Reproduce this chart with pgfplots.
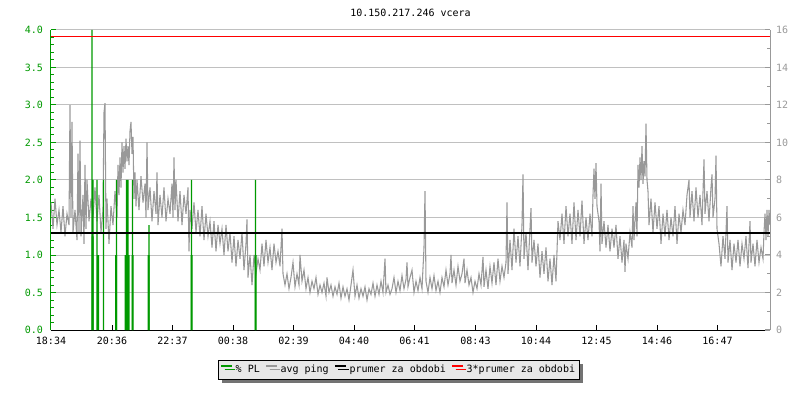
\documentclass[border=0pt]{standalone}
\usepackage{fontspec}
\setmainfont{DejaVu Sans Mono}
\usepackage{pgfplots}
\usepackage{pgfplotstable}
\pgfplotsset{compat=1.18}
\usetikzlibrary{shadows}

\definecolor{plgreen}{RGB}{0,153,0}
\definecolor{pinggray}{RGB}{153,153,153}
\definecolor{gridgray}{RGB}{192,192,192}
\definecolor{legfill}{RGB}{232,232,232}

% avg ping [ms], x = minutes since 18:34
\pgfplotstableread[row sep=\\]{
min ping\\
0 6.8\\ 4 5.4\\ 8 7.0\\ 12 5.6\\ 16 6.4\\ 20 5.2\\ 24 6.6\\ 28 5.0\\ 32 6.2\\ 36 5.6\\
38 12.0\\ 40 6.0\\ 42 11.1\\ 44 5.2\\ 48 6.4\\ 52 4.8\\ 54 9.4\\ 56 5.2\\ 58 10.1\\ 60 5.0\\
64 7.2\\ 66 4.6\\ 68 8.8\\ 70 5.4\\ 72 8.0\\ 76 5.8\\ 80 7.0\\ 84 6.0\\ 88 7.6\\ 92 5.8\\
96 7.2\\ 100 5.2\\ 104 6.4\\ 106 11.6\\ 108 12.1\\ 110 5.4\\ 112 7.0\\ 116 4.6\\ 120 6.6\\ 124 5.6\\
128 7.4\\ 132 6.0\\ 134 8.8\\ 136 7.2\\ 138 9.2\\ 140 7.6\\ 142 10.0\\ 144 8.4\\ 146 9.8\\ 148 8.6\\
150 10.2\\ 152 9.0\\ 154 9.8\\ 156 8.8\\ 158 10.6\\ 160 11.1\\ 162 9.4\\ 164 10.3\\ 166 7.0\\ 168 8.4\\
170 6.6\\ 172 8.0\\ 176 6.4\\ 180 8.2\\ 184 6.8\\ 188 7.8\\ 190 6.0\\ 192 10.0\\ 194 6.4\\ 198 7.6\\
202 5.8\\ 206 7.4\\ 210 6.2\\ 212 8.4\\ 214 5.6\\ 218 7.2\\ 222 6.0\\ 226 7.6\\ 230 5.8\\ 234 7.0\\
238 6.2\\ 242 7.8\\ 244 6.0\\ 246 9.2\\ 248 6.4\\ 250 8.0\\ 254 5.8\\ 258 7.4\\ 262 5.6\\ 266 7.2\\
270 6.2\\ 274 7.6\\ 276 4.2\\ 278 6.4\\ 282 5.4\\ 286 6.8\\ 290 5.2\\ 294 6.4\\ 298 5.0\\ 302 6.6\\
306 4.8\\ 310 6.2\\ 314 5.0\\ 318 5.8\\ 322 4.4\\ 326 5.8\\ 330 4.2\\ 334 5.6\\ 338 4.6\\ 342 5.4\\
346 4.0\\ 350 5.6\\ 354 4.2\\ 358 5.2\\ 362 3.6\\ 366 5.0\\ 370 3.4\\ 374 4.8\\ 378 3.8\\ 382 5.2\\
386 3.2\\ 390 4.6\\ 392 5.9\\ 394 2.8\\ 398 4.0\\ 402 2.4\\ 406 4.0\\ 410 3.0\\ 414 3.8\\ 418 3.2\\
422 4.6\\ 426 3.4\\ 430 4.8\\ 434 3.6\\ 438 4.4\\ 442 3.2\\ 446 4.6\\ 450 3.6\\ 454 4.2\\ 458 3.4\\
462 5.4\\ 464 3.0\\ 468 2.4\\ 472 3.0\\ 476 2.2\\ 480 2.8\\ 484 3.6\\ 488 2.3\\ 492 3.0\\ 496 2.4\\
498 4.0\\ 502 2.6\\ 506 3.2\\ 510 2.2\\ 514 2.8\\ 518 2.0\\ 522 2.6\\ 526 2.2\\ 530 2.8\\ 534 1.9\\
538 2.4\\ 542 2.0\\ 546 2.5\\ 550 1.8\\ 552 2.8\\ 556 2.0\\ 560 2.4\\ 564 1.8\\ 568 2.3\\ 572 1.9\\
576 2.5\\ 580 1.7\\ 584 2.3\\ 588 1.8\\ 592 2.2\\ 596 1.6\\ 600 2.4\\ 604 3.2\\ 608 1.8\\ 612 2.4\\
616 1.7\\ 620 2.2\\ 624 1.8\\ 628 2.3\\ 632 1.6\\ 636 2.2\\ 640 1.9\\ 644 2.5\\ 648 1.8\\ 652 2.4\\
656 1.9\\ 660 2.6\\ 664 2.0\\ 668 3.8\\ 670 2.0\\ 674 2.4\\ 678 1.9\\ 682 2.2\\ 686 2.8\\ 690 2.0\\
694 2.6\\ 698 2.1\\ 702 2.9\\ 706 2.2\\ 710 2.7\\ 712 3.6\\ 714 2.3\\ 718 2.8\\ 722 3.2\\ 726 2.0\\
730 2.6\\ 734 2.1\\ 738 2.8\\ 742 2.2\\ 746 4.4\\ 748 7.4\\ 750 2.6\\ 754 2.0\\ 758 2.8\\ 762 2.2\\
766 2.9\\ 770 2.1\\ 774 2.6\\ 778 2.0\\ 782 2.8\\ 786 2.3\\ 790 3.2\\ 794 2.4\\ 798 3.0\\ 800 4.0\\
802 2.5\\ 806 3.2\\ 810 2.4\\ 814 3.4\\ 818 2.6\\ 822 3.0\\ 826 3.8\\ 828 2.5\\ 832 3.2\\ 836 2.4\\
840 2.8\\ 844 2.0\\ 848 2.6\\ 852 2.2\\ 856 3.0\\ 860 2.4\\ 864 3.9\\ 866 2.3\\ 870 3.2\\ 874 2.2\\
878 3.4\\ 882 2.5\\ 886 3.6\\ 890 2.4\\ 894 3.8\\ 898 2.6\\ 902 3.4\\ 906 2.8\\ 910 3.6\\ 912 6.8\\
914 3.0\\ 918 4.8\\ 922 3.2\\ 926 5.4\\ 930 3.6\\ 934 5.0\\ 938 3.4\\ 942 5.6\\ 944 8.3\\ 946 3.8\\
950 5.2\\ 954 3.2\\ 958 5.4\\ 960 6.5\\ 962 3.6\\ 966 4.8\\ 970 3.4\\ 974 4.6\\ 978 2.8\\ 982 4.2\\
986 3.0\\ 990 4.4\\ 994 2.6\\ 998 3.8\\ 1002 2.4\\ 1006 4.0\\ 1010 2.6\\ 1014 5.8\\ 1018 4.8\\ 1022 6.2\\
1026 4.6\\ 1030 6.6\\ 1034 5.0\\ 1038 6.2\\ 1042 4.6\\ 1046 6.8\\ 1050 4.8\\ 1054 6.4\\ 1058 5.0\\ 1062 6.9\\
1066 4.6\\ 1070 6.0\\ 1074 4.8\\ 1078 6.2\\ 1082 5.0\\ 1084 7.2\\ 1086 8.6\\ 1088 7.0\\ 1090 8.9\\ 1092 6.6\\
1096 5.8\\ 1098 4.2\\ 1100 7.8\\ 1102 4.6\\ 1106 5.8\\ 1110 4.4\\ 1114 5.6\\ 1118 4.2\\ 1122 5.4\\ 1126 4.4\\
1130 5.6\\ 1134 3.8\\ 1138 5.0\\ 1142 3.6\\ 1146 4.8\\ 1148 3.1\\ 1150 4.6\\ 1154 3.8\\ 1158 5.2\\ 1162 4.4\\
1164 6.6\\ 1166 4.8\\ 1170 6.8\\ 1172 5.0\\ 1174 8.8\\ 1176 7.6\\ 1178 9.2\\ 1180 8.0\\ 1182 9.8\\ 1184 7.8\\
1186 9.0\\ 1188 8.2\\ 1190 11.0\\ 1192 8.0\\ 1194 7.4\\ 1196 5.6\\ 1200 7.0\\ 1204 5.2\\ 1208 6.8\\ 1212 5.4\\
1216 6.6\\ 1220 4.6\\ 1224 6.2\\ 1228 5.0\\ 1232 6.4\\ 1236 4.8\\ 1240 6.0\\ 1244 5.0\\ 1248 6.6\\ 1252 4.6\\
1256 6.2\\ 1260 5.2\\ 1264 6.4\\ 1268 5.6\\ 1272 7.2\\ 1276 8.0\\ 1278 6.0\\ 1282 7.4\\ 1286 5.8\\ 1290 7.6\\
1294 6.0\\ 1298 7.2\\ 1302 5.6\\ 1306 9.1\\ 1308 6.2\\ 1312 7.4\\ 1316 5.8\\ 1320 7.6\\ 1322 8.3\\ 1324 6.0\\
1328 7.0\\ 1330 9.3\\ 1332 5.4\\ 1336 4.6\\ 1340 3.4\\ 1344 5.0\\ 1348 3.8\\ 1352 6.6\\ 1354 3.6\\ 1358 4.8\\
1362 3.2\\ 1366 4.6\\ 1370 3.6\\ 1374 4.8\\ 1378 3.4\\ 1382 4.6\\ 1386 3.8\\ 1390 5.0\\ 1394 3.3\\ 1398 5.8\\
1400 3.6\\ 1404 4.6\\ 1408 3.4\\ 1412 4.8\\ 1416 3.6\\ 1420 4.4\\ 1424 3.8\\ 1426 5.2\\ 1428 6.2\\ 1430 4.8\\
1432 6.4\\ 1434 5.0\\ 1436 6.4\\ 1438 5.6\\
}\pingtable

\begin{document}
\begin{tikzpicture}[font=\fontsize{7.5}{9}\selectfont]
\useasboundingbox (-38.25pt,-52.5pt) rectangle (561.75pt,247.5pt);
\begin{axis}[
  scale only axis, width=539.25pt, height=225pt,
  at={(0,0)}, anchor=south west,
  xmin=0, xmax=1438, ymin=0, ymax=4,
  axis x line*=bottom, axis y line*=left,
  axis line style={-},
  x axis line style={black, line width=0.75pt},
  y axis line style={plgreen, line width=0.75pt},
  tick align=inside,
  major tick length=3.75pt, minor tick length=2.25pt,
  xtick={0,122,243,364,485,606,727,849,970,1091,1212,1333},
  xticklabels={18:34,20:36,22:37,00:38,02:39,04:40,06:41,08:43,10:44,12:45,14:46,16:47},
  xtick style={black, line width=0.75pt},
  xticklabel style={black, yshift=-2pt},
  ytick={0,0.5,...,4},
  minor y tick num=4,
  ytick style={plgreen, line width=0.75pt},
  yticklabel style={plgreen, xshift=-2.5pt,
    /pgf/number format/.cd, fixed, fixed zerofill, precision=1, assume math mode=true},
  ymajorgrids, grid style={gridgray, line width=0.75pt},
  title={10.150.217.246 vcera},
  title style={at={(0.5,1)}, anchor=south, yshift=4pt, inner sep=0pt},
  legend columns=-1,
  legend image code/.code={\path (0pt,0pt); \draw[#1, line width=1.6pt] (0pt,2.8pt) -- (8pt,2.8pt);},
  legend style={at={(0.484,-0.1)}, anchor=north, draw=black, line width=0.75pt,
    fill=legfill, inner sep=1.5pt,
    drop shadow={shadow xshift=2.5pt, shadow yshift=-2.5pt, fill=black!55, opacity=1},
    /tikz/every even column/.append style={column sep=2pt},
    nodes={inner sep=2pt}},
]
  \addlegendimage{plgreen}\addlegendentry{\% PL}
  \addlegendimage{pinggray}\addlegendentry{avg ping}
  \addlegendimage{black}\addlegendentry{prumer za obdobi}
  \addlegendimage{red}\addlegendentry{3*prumer za obdobi}

  % avg ping, drawn in left-axis units (right axis = 4 x left)
  \addplot[forget plot, pinggray, line width=0.8pt]
    table[x=min, y expr=\thisrow{ping}/4] {\pingtable};

  % packet loss
  \addplot[forget plot, ybar, bar shift=0pt, bar width=1.5pt, fill=plgreen, draw=none]
    coordinates {
    (83,1.25) (94,1.0) (130,1.0) (149,1.0) (155,1.0) (163,1.0)
    (195,1.0) (281,1.0) (409,1.0)
  };
  \addplot[forget plot, ybar, bar shift=0pt, bar width=0.9pt, fill=plgreen, draw=none]
    coordinates {
    (82,4.0) (84,2.0) (92,2.0) (105,2.0) (131,2.0) (151,2.0) (154,2.0)
    (163,2.0) (196,1.4) (281,2.0) (409,2.0)
  };

  % period average and 3x average
  \addplot[forget plot, black, line width=1.5pt] coordinates {(0,1.3) (1438,1.3)};
  \addplot[forget plot, red, line width=0.75pt] coordinates {(0,3.91) (1438,3.91)};
\end{axis}

\begin{axis}[
  scale only axis, width=539.25pt, height=225pt,
  at={(0,0)}, anchor=south west,
  xmin=0, xmax=1438, ymin=0, ymax=16,
  axis x line=none, axis y line*=right,
  axis line style={-},
  y axis line style={pinggray, line width=0.75pt},
  tick align=inside,
  major tick length=3.75pt, minor tick length=2.25pt,
  ytick={0,2,...,16}, minor y tick num=1,
  ytick style={pinggray, line width=0.75pt},
  yticklabel style={pinggray, xshift=1pt,
    /pgf/number format/assume math mode=true},
]
  \addplot[draw=none] coordinates {(0,0)};
\end{axis}
\end{tikzpicture}
\end{document}
